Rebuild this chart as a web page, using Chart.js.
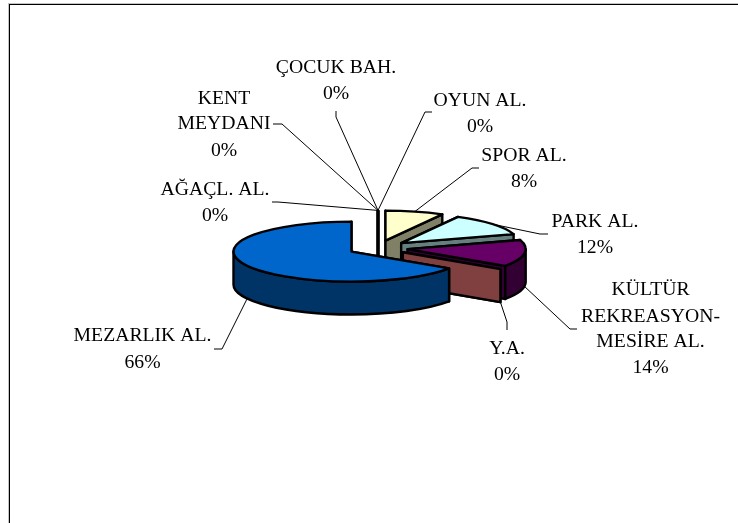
<!DOCTYPE html>
<html>
<head>
<meta charset="utf-8">
<style>html,body{margin:0;padding:0;background:#fff}canvas{display:block}</style>
<script src="https://cdn.jsdelivr.net/npm/chart.js@4"></script>
</head>
<body>
<canvas id="c" width="738" height="523"></canvas>
<script>
const categories = ["ÇOCUK BAH.", "OYUN AL.", "SPOR AL.", "PARK AL.", "KÜLTÜR REKREASYON-MESİRE AL.", "Y.A.", "MEZARLIK AL.", "AĞAÇL. AL.", "KENT MEYDANI"];
const values = [0, 0, 8, 12.1, 14.4, 0, 65.5, 0, 0];
const topColors = ["#9999FF", "#993366", "#FFFFCC", "#CCFFFF", "#660066", "#FF8080", "#0066CC", "#CCCCFF", "#000080"];
const sideColors = ["#4C4C80", "#4C1933", "#808066", "#668080", "#330033", "#804040", "#003366", "#666680", "#000040"];

// Presentation only
const TILT = 0.254, DEPTH = 33, EXPLODE = 30, RADIUS = 118, FONT_PX = 19.7;
const drawOrder = [7, 8, 0, 1, 2, 3, 4, 5, 6];
const labelLines = [
  ["ÇOCUK BAH."], ["OYUN AL."], ["SPOR AL."], ["PARK AL."],
  ["KÜLTÜR", "REKREASYON-", "MESİRE AL."], ["Y.A."], ["MEZARLIK AL."], ["AĞAÇL. AL."], ["KENT", "MEYDANI"]
];
const labelPlace = [
  {x:336, y:[73,99]},
  {x:480, y:[106,132]},
  {x:524, y:[161,187]},
  {x:595, y:[227,253]},
  {x:650.5, y:[295,322,347,373]},
  {x:507, y:[354,380]},
  {x:142.5, y:[341,368]},
  {x:215, y:[195,221]},
  {x:224, y:[104,129,156]}
];
const leaderPath = [
  [[336,117],[336,111]],
  [[425,112],[432,112]],
  [[472,168],[479,168]],
  [[540,234],[548,234]],
  [[570,329],[577,329]],
  [[507,322],[507,330]],
  [[222,349],[214,349]],
  [[278,202],[272,202]],
  [[282,124],[273,124]]
];

function geom(arc) {
  const p = arc.getProps(['x','y','startAngle','endAngle','outerRadius'], true);
  const mid = (p.startAngle + p.endAngle) / 2;
  const off = arc.options.offset;
  return { cx: p.x + off*Math.cos(mid), cy: p.y + off*Math.sin(mid)*TILT,
           a0: p.startAngle, a1: p.endAngle, r: p.outerRadius, mid, off };
}
function pt(g, a, dz) { return [g.cx + g.r*Math.cos(a), g.cy + g.r*Math.sin(a)*TILT + (dz||0)]; }
function face(ctx, g, a, side) {
  const q = pt(g, a);
  ctx.beginPath();
  ctx.moveTo(g.cx, g.cy);
  ctx.lineTo(q[0], q[1]);
  ctx.lineTo(q[0], q[1]+DEPTH);
  ctx.lineTo(g.cx, g.cy+DEPTH);
  ctx.closePath();
  ctx.fillStyle = side; ctx.fill(); ctx.stroke();
}

const pie3d = {
  id: 'pie3d',
  beforeDraw(chart) {
    const ctx = chart.ctx;
    ctx.save();
    ctx.fillStyle = '#fff'; ctx.fillRect(0,0,738,523);
    ctx.fillStyle = '#c4c4c4'; ctx.fillRect(8,3,730,1); ctx.fillRect(8,3,1,520);
    ctx.fillStyle = '#000'; ctx.fillRect(9,4,729,1); ctx.fillRect(9,4,1,519);
    ctx.restore();
  },
  beforeDatasetDraw(chart) {
    const ctx = chart.ctx, arcs = chart.getDatasetMeta(0).data;
    ctx.save();
    ctx.lineWidth = 2.4; ctx.strokeStyle = '#000'; ctx.lineJoin = 'round';
    drawOrder.forEach(i => {
      const g = geom(arcs[i]);
      face(ctx, g, g.a0, sideColors[i]);
      face(ctx, g, g.a1, sideColors[i]);
      const w0 = Math.max(g.a0, 0), w1 = Math.min(g.a1, Math.PI);
      if (w1 > w0) {
        ctx.beginPath();
        ctx.ellipse(g.cx, g.cy, g.r, g.r*TILT, 0, w0, w1);
        ctx.ellipse(g.cx, g.cy+DEPTH, g.r, g.r*TILT, 0, w1, w0, true);
        ctx.closePath();
        ctx.fillStyle = sideColors[i]; ctx.fill(); ctx.stroke();
      }
      if (g.a1 > g.a0) {
        ctx.beginPath();
        ctx.moveTo(g.cx, g.cy);
        ctx.ellipse(g.cx, g.cy, g.r, g.r*TILT, 0, g.a0, g.a1);
        ctx.closePath();
        ctx.fillStyle = topColors[i]; ctx.fill(); ctx.stroke();
      }
    });
    ctx.restore();
    return false;
  },
  afterDatasetsDraw(chart) {
    const ctx = chart.ctx, arcs = chart.getDatasetMeta(0).data;
    const total = values.reduce((a,b)=>a+b,0);
    ctx.save();
    ctx.strokeStyle = '#000'; ctx.lineWidth = 1; ctx.fillStyle = '#000';
    ctx.font = FONT_PX + 'px "Liberation Serif"';
    ctx.textAlign = 'center'; ctx.textBaseline = 'alphabetic';
    categories.forEach((c,i) => {
      const g = geom(arcs[i]);
      const front = Math.sin(g.mid) > 0;
      const a = pt(g, g.mid, front ? DEPTH : 0);
      ctx.beginPath();
      ctx.moveTo(a[0], a[1]);
      leaderPath[i].forEach(q => ctx.lineTo(q[0], q[1]));
      ctx.stroke();
      const lines = labelLines[i].concat([Math.round(values[i]/total*100) + '%']);
      lines.forEach((t,k) => ctx.fillText(t, labelPlace[i].x, labelPlace[i].y[k]));
    });
    ctx.restore();
  }
};

new Chart(document.getElementById('c'), {
  type: 'pie',
  data: {
    labels: categories,
    datasets: [{ data: values, backgroundColor: topColors, borderColor: '#000', borderWidth: 0, offset: EXPLODE }]
  },
  options: {
    responsive: false,
    animation: false,
    radius: RADIUS,
    layout: { padding: { left: 18, right: 0, top: 0, bottom: 27 } },
    plugins: { legend: { display: false }, tooltip: { enabled: false } }
  },
  plugins: [pie3d]
});
</script>
</body>
</html>
